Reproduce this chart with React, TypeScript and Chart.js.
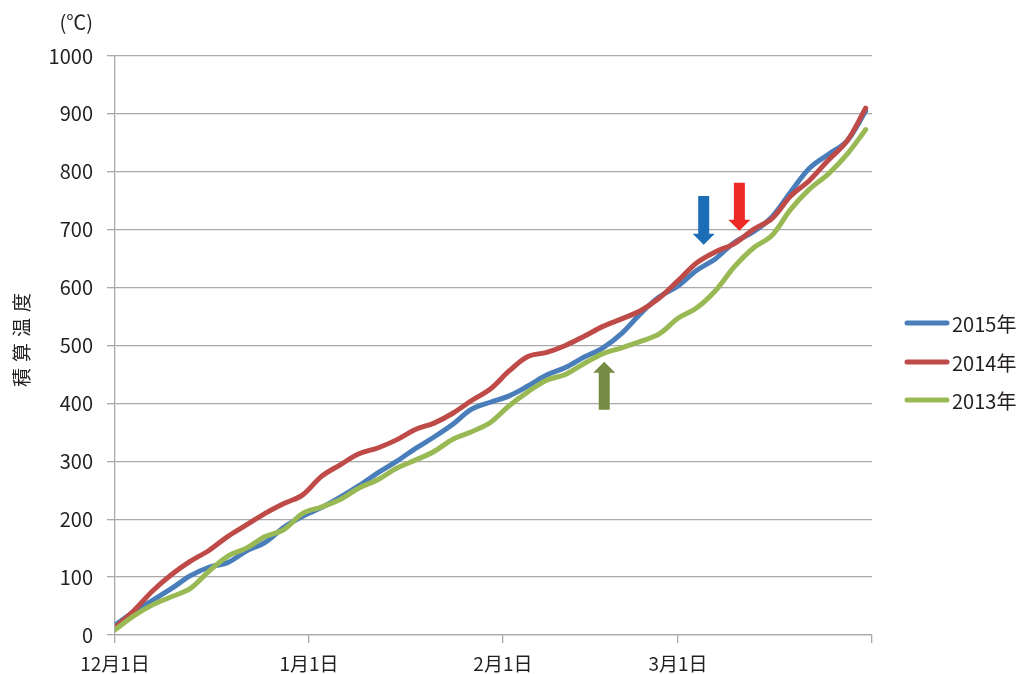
import React, { useEffect, useRef } from "react";
import { Chart, registerables } from "chart.js";

Chart.register(...registerables);

// Days counted from 12月1日
const days = [0, 3, 6, 9, 12, 15, 18, 21, 24, 27, 30, 33, 36, 39, 42, 45, 48, 51, 54, 57, 60, 63, 66, 69, 72, 75, 78, 81, 84, 87, 90, 93, 96, 99, 102, 105, 108, 111, 114, 117, 120];

const series2015 = [17, 40, 60, 80, 102, 117, 125, 145, 160, 186, 205, 220, 238, 258, 280, 300, 322, 342, 364, 390, 402, 413, 430, 449, 462, 480, 496, 521, 555, 584, 603, 630, 650, 678, 696, 722, 765, 806, 830, 853, 905];
const series2014 = [13, 42, 76, 104, 127, 146, 170, 190, 210, 227, 242, 274, 294, 313, 323, 337, 355, 366, 383, 405, 425, 456, 481, 488, 500, 516, 533, 546, 560, 582, 612, 643, 662, 676, 700, 719, 758, 785, 820, 853, 910];
const series2013 = [9, 33, 52, 66, 80, 110, 136, 150, 170, 182, 210, 221, 234, 254, 268, 288, 302, 317, 338, 351, 367, 396, 420, 440, 450, 469, 486, 496, 507, 520, 547, 565, 595, 636, 668, 690, 735, 770, 796, 830, 873];

const seriesLabels = ["2015年", "2014年", "2013年"];
const seriesColors = ["#4a7ebb", "#be4b48", "#98b954"];

const tickDays = [0, 31, 62, 90, 121];
const tickLabels = ["12月1日", "1月1日", "2月1日", "3月1日", ""];

const yMin = 0;
const yMax = 1000;
const yStep = 100;

const yTitle = "積算温度";
const unitLabel = "(℃)";

// Annotation arrows (day, from value, to value)
const arrowDays = [94.1, 99.8, 78.2];
const arrowFrom = [758, 781, 389];
const arrowTo = [674, 698, 472];
const arrowColors = ["#1b6db5", "#ec2a26", "#768c44"];

const FONT = '"Noto Sans CJK JP", "Noto Sans", sans-serif';
const TEXT = "#231f20";
const GRID = "#a9a9a9";

const overlayPlugin = {
  id: "overlay",
  afterDraw(chart: any) {
    const ctx = chart.ctx;
    const xs = chart.scales.x;
    const ys = chart.scales.y;
    // arrows
    for (let i = 0; i < arrowDays.length; i++) {
      const x = xs.getPixelForValue(arrowDays[i]);
      const y0 = ys.getPixelForValue(arrowFrom[i]);
      const y1 = ys.getPixelForValue(arrowTo[i]);
      const dir = y1 > y0 ? 1 : -1;
      const shaftW = 11;
      const headW = 22;
      const headL = 11;
      const yb = y1 - dir * headL;
      ctx.save();
      ctx.fillStyle = arrowColors[i];
      ctx.beginPath();
      ctx.moveTo(x - shaftW / 2, y0);
      ctx.lineTo(x + shaftW / 2, y0);
      ctx.lineTo(x + shaftW / 2, yb);
      ctx.lineTo(x + headW / 2, yb);
      ctx.lineTo(x, y1);
      ctx.lineTo(x - headW / 2, yb);
      ctx.lineTo(x - shaftW / 2, yb);
      ctx.closePath();
      ctx.fill();
      ctx.restore();
    }
    // legend
    ctx.save();
    const legendY = [323, 362, 400];
    seriesLabels.forEach((lab, i) => {
      ctx.strokeStyle = seriesColors[i];
      ctx.lineWidth = 5;
      ctx.lineCap = "round";
      ctx.beginPath();
      ctx.moveTo(907, legendY[i]);
      ctx.lineTo(947, legendY[i]);
      ctx.stroke();
      ctx.fillStyle = TEXT;
      ctx.font = `20px ${FONT}`;
      ctx.textAlign = "left";
      ctx.textBaseline = "middle";
      ctx.fillText(lab, 952, legendY[i] + 1);
    });
    // unit label
    ctx.font = `20px ${FONT}`;
    ctx.textAlign = "right";
    ctx.textBaseline = "middle";
    ctx.fillText(unitLabel, 93, 22);
    // y title
    ctx.translate(22, 340);
    ctx.rotate(-Math.PI / 2);
    ctx.font = `19px ${FONT}`;
    ctx.textAlign = "center";
    const chars = Array.from(yTitle);
    const pitch = 25;
    chars.forEach((c, i) => {
      ctx.fillText(c, (i - (chars.length - 1) / 2) * pitch, 0);
    });
    ctx.restore();
  },
};

export default function App() {
  const ref = useRef<HTMLCanvasElement>(null);
  useEffect(() => {
    if (!ref.current) return;
    const mk = (data: number[]) => days.map((d, i) => ({ x: d, y: data[i] }));
    const chart = new Chart(ref.current, {
      type: "line",
      data: {
        datasets: [
          { label: seriesLabels[0], data: mk(series2015), borderColor: seriesColors[0], order: 2 },
          { label: seriesLabels[1], data: mk(series2014), borderColor: seriesColors[1], order: 1 },
          { label: seriesLabels[2], data: mk(series2013), borderColor: seriesColors[2], order: 0 },
        ],
      },
      options: {
        responsive: false,
        animation: false,
        devicePixelRatio: 1,
        layout: { padding: { left: 0, right: 153, top: 56, bottom: 0 } },
        elements: {
          point: { radius: 0 },
          line: { borderWidth: 5, tension: 0.35, borderCapStyle: "round", borderJoinStyle: "round", fill: false },
        },
        plugins: { legend: { display: false }, tooltip: { enabled: false } },
        scales: {
          x: {
            type: "linear",
            min: tickDays[0],
            max: tickDays[tickDays.length - 1],
            afterBuildTicks: (s: any) => {
              s.ticks = tickDays.map((v) => ({ value: v }));
            },
            afterFit: (s: any) => {
              s.height = 39;
            },
            ticks: {
              autoSkip: false,
              maxRotation: 0,
              padding: 9,
              color: TEXT,
              font: { size: 19, family: FONT },
              callback: (v: any) => {
                const idx = tickDays.indexOf(Number(v));
                return idx >= 0 ? tickLabels[idx] : "";
              },
            },
            grid: { drawOnChartArea: false, drawTicks: true, tickLength: 8, color: GRID, lineWidth: 1.3 },
            border: { color: GRID, width: 1.3 },
          },
          y: {
            min: yMin,
            max: yMax,
            afterFit: (s: any) => {
              s.width = 115;
            },
            ticks: {
              stepSize: yStep,
              padding: 14,
              color: TEXT,
              font: { size: 20, family: FONT },
              callback: (v: any) => String(v),
            },
            grid: { color: GRID, lineWidth: 1.3, tickLength: 8, tickColor: GRID },
            border: { color: GRID, width: 1.3 },
          },
        },
      },
      plugins: [overlayPlugin],
    } as any);
    return () => chart.destroy();
  }, []);
  return (
    <div style={{ position: "absolute", left: 0, top: 0, width: 1025, height: 674, background: "#fff" }}>
      <canvas ref={ref} width={1025} height={674} style={{ width: 1025, height: 674 }} />
    </div>
  );
}
